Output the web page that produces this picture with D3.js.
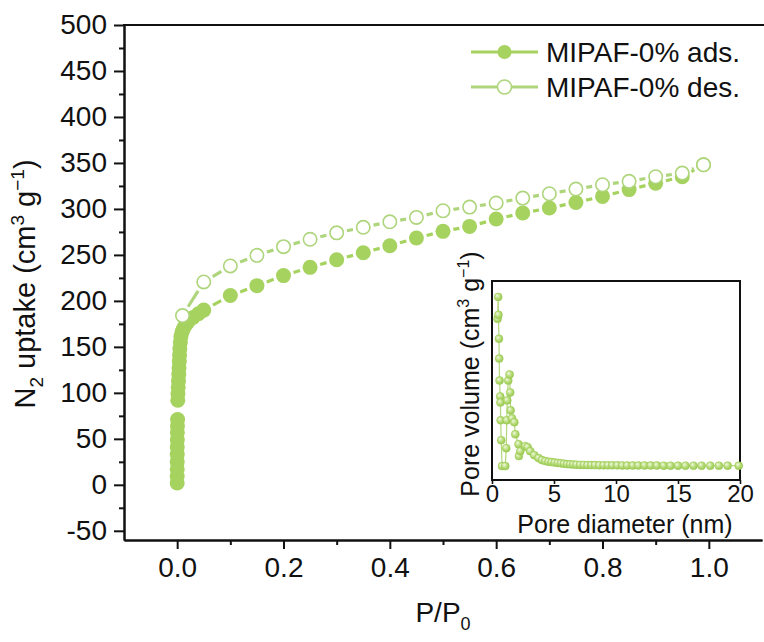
<!DOCTYPE html>
<html>
<head>
<meta charset="utf-8">
<script src="https://cdn.jsdelivr.net/npm/d3@7/dist/d3.min.js"></script>
<style>
  html, body { margin: 0; padding: 0; background: #fff; }
  svg { display: block; font-family: "Liberation Sans", Arial, sans-serif; }
</style>
</head>
<body>
<svg id="chart" width="764" height="642"></svg>
<script>
// N2 isotherm, adsorption branch (relative pressure, uptake in cm3/g)
const adsP = [0.00002, 0.00004, 0.00007, 0.0001, 0.00015, 0.0002, 0.0003, 0.0004, 0.0006, 0.0008,
              0.0012, 0.0015, 0.002, 0.0025, 0.003, 0.0035, 0.004, 0.0045, 0.005, 0.006,
              0.007, 0.009, 0.012, 0.016, 0.02, 0.03, 0.04, 0.05,
              0.10, 0.15, 0.20, 0.25, 0.30, 0.35, 0.40, 0.45, 0.50, 0.55, 0.60, 0.65,
              0.70, 0.75, 0.80, 0.85, 0.90, 0.95, 0.99];
const adsV = [2, 9, 17, 25, 33, 41, 49, 57, 64, 71,
              92, 99, 106, 113, 120, 127, 134, 141, 148, 155,
              161, 166, 170, 174, 177, 182, 186, 190,
              205.8, 216.6, 227.5, 236.5, 244.8, 252.4, 260, 268.4, 275.6, 281, 289, 295.5,
              301, 307, 313.6, 321, 328, 335, 348];

// desorption branch
const desP = [0.99, 0.95, 0.90, 0.85, 0.80, 0.75, 0.70, 0.65, 0.60, 0.55, 0.50,
              0.45, 0.40, 0.35, 0.30, 0.25, 0.20, 0.15, 0.10, 0.05, 0.01];
const desV = [348, 339, 335, 330, 326.3, 321.6, 316.5, 311.8, 306.4, 302, 298,
              290.8, 286, 280, 274, 267, 259, 249.5, 238, 220.6, 184];

// pore size distribution (diameter in nm, relative pore volume)
const psdD = [0.45, 0.50, 0.52, 0.56, 0.58, 0.61, 0.66, 0.68, 0.70, 0.74, 0.81,
              1.07, 1.15, 1.19, 1.23, 1.31, 1.42, 1.47, 1.50, 1.61, 1.80, 1.88,
              2.14, 2.17, 2.28, 2.68, 2.87, 3.08, 3.41, 3.75,
              4.03, 4.30, 4.55, 4.80, 5.05, 5.30, 5.55, 5.80, 6.05, 6.30, 6.55, 6.80,
              7.10, 7.40, 7.70, 8.00, 8.30, 8.65, 9.00, 9.35, 9.70, 10.1, 10.5, 10.9,
              11.35, 11.8, 12.3, 12.8, 13.3, 13.85, 14.4, 15.0, 15.6, 16.25, 16.9,
              17.6, 18.3, 19.0, 19.9];
const psdV = [0.81, 0.92, 0.83, 0.71, 0.61, 0.50, 0.42, 0.39, 0.30, 0.20, 0.07,
              0.07, 0.16, 0.30, 0.40, 0.50, 0.53, 0.44, 0.35, 0.31, 0.29, 0.23,
              0.18, 0.12, 0.145, 0.17, 0.165, 0.145, 0.125, 0.11,
              0.100, 0.095, 0.092, 0.090, 0.088, 0.086, 0.084, 0.082, 0.080, 0.079, 0.078, 0.077,
              0.076, 0.076, 0.075, 0.075, 0.075, 0.074, 0.074, 0.074, 0.074, 0.074, 0.073, 0.073,
              0.073, 0.073, 0.073, 0.073, 0.073, 0.072, 0.072, 0.072, 0.072, 0.072, 0.072,
              0.072, 0.072, 0.072, 0.072];

// axis ticks
const xMajor = [0.0, 0.2, 0.4, 0.6, 0.8, 1.0];
const xMinor = [0.1, 0.3, 0.5, 0.7, 0.9];
const yMajor = [-50, 0, 50, 100, 150, 200, 250, 300, 350, 400, 450, 500];
const yMinor = [-25, 25, 75, 125, 175, 225, 275, 325, 375, 425, 475];
const insetXTicks = [0, 5, 10, 15, 20];

const legendLabels = ["MIPAF-0% ads.", "MIPAF-0% des."];

const GREEN = "#a6d25f";
const OPEN_STROKE = "#aed57c";
const FONT = 28;

const svg = d3.select("#chart");

const x = d3.scaleLinear().domain([-0.1, 1.1]).range([124, 762]);
const y = d3.scaleLinear().domain([-60, 500]).range([540, 25]);

// ---------- main axes ----------
const axisStyle = g => {
  g.selectAll("path, line").attr("stroke", "#111").attr("stroke-width", 2);
  g.selectAll("text").attr("fill", "#111").style("font-size", FONT + "px")
    .style("font-family", "'Liberation Sans', Arial, sans-serif");
};

svg.append("g").attr("transform", `translate(0,${y(-60)})`)
  .call(d3.axisBottom(x).tickValues(xMajor).tickFormat(d3.format(".1f"))
        .tickSize(9).tickSizeOuter(0).tickPadding(8))
  .call(axisStyle);
svg.append("g").attr("transform", `translate(0,${y(-60)})`)
  .call(d3.axisBottom(x).tickValues(xMinor).tickFormat("").tickSize(5).tickSizeOuter(0))
  .call(axisStyle);

svg.append("g").attr("transform", `translate(${x(-0.1)},0)`)
  .call(d3.axisLeft(y).tickValues(yMajor).tickFormat(d => String(d))
        .tickSize(10).tickSizeOuter(0).tickPadding(7))
  .call(axisStyle);
svg.append("g").attr("transform", `translate(${x(-0.1)},0)`)
  .call(d3.axisLeft(y).tickValues(yMinor).tickFormat("").tickSize(5).tickSizeOuter(0))
  .call(axisStyle);

// top frame line
svg.append("line")
  .attr("x1", x(-0.1) - 1).attr("x2", 764)
  .attr("y1", y(500)).attr("y2", y(500))
  .attr("stroke", "#111").attr("stroke-width", 2);

// axis titles
const yTitle = svg.append("text")
  .attr("transform", `translate(35,284) rotate(-90)`)
  .attr("text-anchor", "middle").style("font-size", "29px").attr("fill", "#111");
yTitle.append("tspan").text("N");
yTitle.append("tspan").text("2").style("font-size", "19px").attr("dy", 8);
yTitle.append("tspan").text(" uptake (cm").attr("dy", -8);
yTitle.append("tspan").text("3").style("font-size", "19px").attr("dy", -11);
yTitle.append("tspan").text(" g").attr("dy", 11);
yTitle.append("tspan").text("\u22121").style("font-size", "19px").attr("dy", -11);
yTitle.append("tspan").text(")").attr("dy", 11);

const xTitle = svg.append("text")
  .attr("x", (x(-0.1) + x(1.1)) / 2).attr("y", 622)
  .attr("text-anchor", "middle").style("font-size", FONT + "px").attr("fill", "#111");
xTitle.append("tspan").text("P/P");
xTitle.append("tspan").text("0").style("font-size", "18px").attr("dy", 8);

// ---------- isotherm series ----------
const R = 7.5, GAP = 3;
function gappedSegments(px, py) {
  const segs = [];
  for (let i = 0; i < px.length - 1; i++) {
    const x1 = x(px[i]), y1 = y(py[i]), x2 = x(px[i + 1]), y2 = y(py[i + 1]);
    const dx = x2 - x1, dy = y2 - y1, L = Math.hypot(dx, dy);
    const cut = R + GAP;
    if (L > 2 * cut + 1) {
      const ux = dx / L, uy = dy / L;
      segs.push([x1 + ux * cut, y1 + uy * cut, x2 - ux * cut, y2 - uy * cut]);
    }
  }
  return segs;
}

function drawSeries(px, py, filled) {
  const g = svg.append("g");
  g.selectAll("line").data(gappedSegments(px, py)).join("line")
    .attr("x1", d => d[0]).attr("y1", d => d[1]).attr("x2", d => d[2]).attr("y2", d => d[3])
    .attr("stroke", filled ? GREEN : OPEN_STROKE).attr("stroke-width", 3.2)
    .attr("stroke-linecap", "butt");
  g.selectAll("circle").data(px.map((p, i) => [p, py[i]])).join("circle")
    .attr("cx", d => x(d[0])).attr("cy", d => y(d[1]))
    .attr("r", filled ? R : R - 0.8)
    .attr("fill", filled ? GREEN : "#fff")
    .attr("stroke", filled ? "none" : OPEN_STROKE)
    .attr("stroke-width", filled ? 0 : 1.6);
}
drawSeries(adsP, adsV, true);
drawSeries(desP, desV, false);

// ---------- legend ----------
const legend = svg.append("g");
legendLabels.forEach((lab, i) => {
  const ly = 52 + i * 35;
  legend.append("line").attr("x1", 471).attr("x2", 538).attr("y1", ly).attr("y2", ly)
    .attr("stroke", i === 0 ? GREEN : OPEN_STROKE).attr("stroke-width", 3);
  legend.append("circle").attr("cx", 504.5).attr("cy", ly).attr("r", 7)
    .attr("fill", i === 0 ? GREEN : "#fff")
    .attr("stroke", i === 0 ? "none" : OPEN_STROKE).attr("stroke-width", 1.6);
  legend.append("text").attr("x", 546).attr("y", ly + 10)
    .style("font-size", FONT + "px").attr("fill", "#111").text(lab);
});

// ---------- inset: pore size distribution ----------
const ix = d3.scaleLinear().domain([0, 20]).range([492, 740]);
const iy = d3.scaleLinear().domain([0, 1]).range([480, 281]);

const defs = svg.append("defs");
const grad = defs.append("radialGradient").attr("id", "bead")
  .attr("cx", "45%").attr("cy", "45%").attr("r", "60%").attr("fx", "35%").attr("fy", "32%");
grad.append("stop").attr("offset", "0%").attr("stop-color", "#f2f9e4");
grad.append("stop").attr("offset", "55%").attr("stop-color", "#b7dc78");
grad.append("stop").attr("offset", "100%").attr("stop-color", "#93c44c");

const inset = svg.append("g");
inset.append("rect").attr("x", ix(0)).attr("y", iy(1))
  .attr("width", ix(20) - ix(0)).attr("height", iy(0) - iy(1))
  .attr("fill", "#fff").attr("stroke", "#111").attr("stroke-width", 2);

inset.append("g").attr("transform", `translate(0,${iy(0)})`)
  .call(d3.axisBottom(ix).tickValues(insetXTicks).tickSize(4).tickSizeOuter(0).tickPadding(1))
  .call(g => {
    g.select(".domain").remove();
    g.selectAll("line").attr("stroke", "#111").attr("stroke-width", 1.6);
    g.selectAll("text").attr("fill", "#111").style("font-size", "24px")
      .style("font-family", "'Liberation Sans', Arial, sans-serif");
  });

inset.append("path")
  .datum(psdD.map((d, i) => [d, psdV[i]]))
  .attr("d", d3.line().x(d => ix(d[0])).y(d => iy(d[1])))
  .attr("fill", "none").attr("stroke", "#b2d77a").attr("stroke-width", 1.2);

inset.selectAll("circle.bead").data(psdD.map((d, i) => [d, psdV[i]])).join("circle")
  .attr("class", "bead")
  .attr("cx", d => ix(d[0])).attr("cy", d => iy(d[1])).attr("r", 4)
  .attr("fill", "url(#bead)").attr("stroke", "#9ccb55").attr("stroke-width", 0.5);

const iyTitle = inset.append("text")
  .attr("transform", `translate(479,374) rotate(-90)`)
  .attr("text-anchor", "middle").style("font-size", "25px").attr("fill", "#111");
iyTitle.append("tspan").text("Pore volume (cm");
iyTitle.append("tspan").text("3").style("font-size", "16px").attr("dy", -10);
iyTitle.append("tspan").text(" g").attr("dy", 10);
iyTitle.append("tspan").text("\u22121").style("font-size", "16px").attr("dy", -10);
iyTitle.append("tspan").text(")").attr("dy", 10);

inset.append("text").attr("x", 625).attr("y", 533)
  .attr("text-anchor", "middle").style("font-size", "25px").attr("fill", "#111")
  .text("Pore diameter (nm)");
</script>
</body>
</html>
